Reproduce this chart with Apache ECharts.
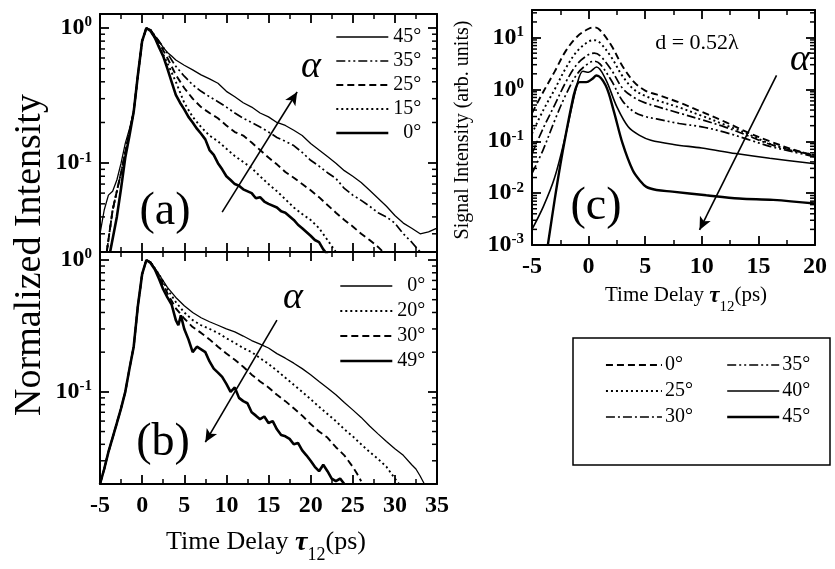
<!DOCTYPE html>
<html>
<head>
<meta charset="utf-8">
<script src="https://cdn.jsdelivr.net/npm/echarts@6/dist/echarts.min.js"></script>
<style>
  html, body { margin: 0; padding: 0; background: #fff; }
  #chart { width: 835px; height: 569px; }
</style>
</head>
<body>
<div id="chart"></div>
<script>
// ---------- Panel (a): normalized decay for alpha = 0..45 deg ----------
const riseA45 = [[-5,0.03],[-4.5,0.045],[-4,0.058],[-3.5,0.062],[-3,0.075],[-2.5,0.1],[-2,0.14],[-1.5,0.18],[-1,0.24],[-0.5,0.45],[0,0.8],[0.5,1.0]];
const riseA = [[-4.2,0.022],[-3.5,0.045],[-3,0.062],[-2.5,0.085],[-2,0.12],[-1.5,0.17],[-1,0.24],[-0.5,0.45],[0,0.8],[0.5,1.0]];
const riseA0 = [[-3.8,0.022],[-3,0.04],[-2.5,0.065],[-2,0.11],[-1.5,0.16],[-1,0.24],[-0.5,0.45],[0,0.8],[0.5,1.0]];
const decayA0 = [[1,0.95],[1.5,0.85],[2,0.72],[2.5,0.62],[3,0.5],[3.5,0.4],[4,0.32],[4.5,0.28],[5,0.25],[5.5,0.22],[6,0.2],[6.5,0.18],[7,0.165],[7.5,0.15],[8,0.125],[8.5,0.115],[9,0.1],[9.5,0.09],[10,0.08],[10.5,0.075],[11,0.07],[11.5,0.068],[12,0.064],[13,0.06],[13.5,0.055],[14,0.056],[14.5,0.052],[15,0.05],[16,0.047],[16.5,0.044],[17,0.043],[18,0.038],[18.5,0.035],[19,0.033],[20,0.029],[20.5,0.027],[21,0.026],[21.5,0.023],[22,0.021]];
const decayA15 = [[1,0.96],[2,0.74],[3,0.55],[4,0.4],[5,0.28],[6,0.22],[7,0.185],[8,0.16],[9,0.145],[10,0.128],[11,0.113],[12,0.102],[13,0.092],[14,0.08],[15,0.07],[16,0.062],[17,0.054],[18,0.047],[19,0.042],[20,0.038],[21,0.033],[22,0.027],[23,0.022]];
const decayA25 = [[1,0.97],[2,0.78],[3,0.6],[4,0.45],[5,0.36],[6,0.3],[7,0.26],[8,0.235],[9,0.215],[10,0.19],[11,0.17],[12,0.16],[13,0.142],[14,0.125],[15,0.11],[16,0.098],[17,0.086],[18,0.078],[19,0.07],[20,0.063],[21,0.056],[22,0.049],[23,0.043],[24,0.038],[25,0.034],[26,0.03],[27,0.027],[28,0.024],[28.6,0.022]];
const decayA35 = [[1,0.97],[2,0.8],[3,0.65],[4,0.52],[5,0.44],[6,0.38],[7,0.34],[8,0.31],[9,0.285],[10,0.26],[11,0.235],[12,0.215],[13,0.2],[14,0.185],[15,0.17],[16,0.155],[17,0.145],[18,0.135],[19,0.12],[20,0.105],[21,0.095],[22,0.085],[23,0.077],[24,0.065],[25,0.058],[26,0.053],[27,0.048],[28,0.043],[29,0.04],[30,0.036],[31,0.03],[32,0.026],[33,0.022]];
const decayA45 = [[1,0.97],[1.5,0.88],[2,0.8],[2.5,0.72],[3,0.66],[3.5,0.62],[4,0.58],[5,0.53],[6,0.49],[7,0.45],[8,0.42],[9,0.39],[10,0.34],[11,0.31],[12,0.28],[13,0.26],[14,0.235],[15,0.22],[16,0.2],[17,0.19],[18,0.175],[19,0.16],[20,0.14],[21,0.125],[22,0.112],[23,0.1],[24,0.088],[25,0.08],[26,0.072],[27,0.063],[28,0.055],[29,0.048],[30,0.041],[31,0.036],[32,0.033],[33,0.03],[34,0.031],[35,0.033]];

// ---------- Panel (b): normalized decay for alpha = 0..49 deg ----------
const riseB = [[-5,0.02],[-4.5,0.026],[-4,0.035],[-3.5,0.045],[-3,0.058],[-2.5,0.075],[-2,0.1],[-1.5,0.15],[-1,0.22],[-0.5,0.45],[0,0.78],[0.5,1.0]];
const decayB0 = [[1,0.97],[2,0.78],[3,0.62],[4,0.52],[5,0.45],[6,0.4],[7,0.365],[8,0.34],[9,0.32],[10,0.3],[11,0.285],[12,0.265],[13,0.245],[14,0.23],[15,0.215],[16,0.195],[17,0.18],[18,0.165],[19,0.15],[20,0.135],[21,0.12],[22,0.107],[23,0.095],[24,0.083],[25,0.073],[26,0.064],[27,0.055],[28,0.048],[29,0.042],[30,0.037],[31,0.033],[32,0.028],[32.5,0.026],[33,0.023],[33.5,0.02]];
const decayB20 = [[1,0.96],[2,0.78],[3,0.6],[4,0.48],[5,0.4],[6,0.35],[7,0.32],[8,0.3],[9,0.28],[10,0.255],[11,0.235],[12,0.215],[13,0.2],[14,0.18],[15,0.163],[16,0.145],[17,0.128],[18,0.113],[19,0.1],[20,0.088],[21,0.077],[22,0.068],[23,0.06],[24,0.052],[25,0.046],[26,0.04],[27,0.035],[28,0.031],[29,0.027],[30,0.022],[30.5,0.02]];
const decayB30 = [[1,0.96],[2,0.76],[3,0.56],[4,0.43],[5,0.36],[6,0.31],[7,0.28],[8,0.25],[9,0.22],[10,0.195],[11,0.175],[12,0.155],[13,0.135],[14,0.12],[15,0.108],[16,0.095],[17,0.085],[18,0.075],[19,0.066],[20,0.057],[21,0.05],[22,0.045],[23,0.038],[24,0.033],[25,0.027],[25.5,0.024],[26,0.021]];
const decayB49 = [[1,0.95],[1.5,0.85],[2,0.72],[2.5,0.6],[3,0.52],[3.5,0.46],[4,0.35],[4.3,0.32],[4.6,0.38],[5,0.3],[5.5,0.25],[6,0.2],[6.5,0.22],[7,0.21],[7.5,0.2],[8,0.17],[8.5,0.15],[9,0.14],[9.5,0.13],[10,0.115],[10.5,0.1],[11,0.108],[11.5,0.09],[12,0.085],[12.5,0.082],[13,0.07],[13.5,0.066],[14,0.062],[14.5,0.065],[15,0.058],[15.5,0.06],[16,0.052],[16.5,0.047],[17,0.046],[17.5,0.044],[18,0.04],[18.5,0.041],[19,0.036],[19.5,0.033],[20,0.03],[20.5,0.027],[21,0.025],[21.5,0.028],[22,0.025],[22.5,0.022],[23,0.021],[23.5,0.022],[24,0.02]];

// ---------- Panel (c): signal intensity, d = 0.52 lambda ----------
const c0  = [[-5,0.35],[-4,0.9],[-3,2.2],[-2,5.6],[-1,10.5],[0,14.8],[0.5,15.8],[1,14],[2,7.1],[3,2.8],[4,1.4],[5,0.95],[6,0.8],[8,0.56],[10,0.37],[12,0.24],[14,0.15],[16,0.1],[18,0.07],[20,0.052]];
const c25 = [[-5,0.14],[-4,0.4],[-3,1.0],[-2,2.6],[-1,5.5],[0,8.4],[0.5,8.9],[1,8.0],[2,4.2],[3,1.8],[4,1.0],[5,0.75],[6,0.62],[8,0.45],[10,0.31],[12,0.21],[14,0.14],[16,0.09],[18,0.068],[20,0.054]];
const c30 = [[-5,0.058],[-4,0.18],[-3,0.5],[-2,1.4],[-1,3.1],[0,4.7],[0.5,5.0],[1,4.5],[2,2.4],[3,1.05],[4,0.7],[5,0.55],[6,0.47],[8,0.35],[10,0.26],[12,0.19],[14,0.13],[16,0.088],[18,0.066],[20,0.054]];
const c35 = [[-5,0.024],[-4,0.07],[-3,0.25],[-2,0.8],[-1,2.0],[0,3.2],[0.5,3.5],[1,3.1],[2,1.5],[3,0.6],[4,0.37],[5,0.3],[6,0.27],[8,0.22],[10,0.19],[12,0.15],[14,0.11],[16,0.08],[18,0.063],[20,0.05]];
const c40 = [[-5,0.002],[-4,0.0055],[-3,0.02],[-2,0.14],[-1,1.29],[-0.5,2.24],[0,2.14],[0.7,2.7],[1.5,1.58],[2.5,0.46],[3.5,0.19],[4.5,0.13],[5.5,0.105],[7.5,0.087],[10,0.074],[13,0.058],[16,0.047],[20,0.037]];
const c45 = [[-3.6,0.001],[-3,0.0074],[-2.5,0.035],[-2,0.14],[-1.5,0.5],[-1.2,0.95],[-0.8,1.38],[-0.2,1.38],[0.3,1.58],[0.7,1.86],[1.5,1.2],[2.2,0.4],[3,0.091],[3.9,0.0275],[4.5,0.0178],[5.1,0.0132],[6,0.0115],[7.4,0.0107],[10.4,0.0091],[13.3,0.0079],[16.3,0.0074],[20,0.0063]];

// Legend labels
const labelsA = { a45: '45°', a35: '35°', a25: '25°', a15: '15°', a0: '0°' };
const labelsB = { b0: '0°', b20: '20°', b30: '30°', b49: '49°' };
const labelsC = { c0: '0°', c25: '25°', c30: '30°', c35: '35°', c40: '40°', c45: '45°' };

// Axis ranges
const xRangeAB = [-5, 35];
const xRangeC = [-5, 20];
const yRangeA = [0.022, 1.27];
const yRangeB = [0.02, 1.15];
const yRangeC = [0.001, 34];

// Minor log ticks (2..9 x 10^k) inside a range
function minorLogTicks(range) {
  const out = [];
  for (let k = -4; k <= 2; k++) {
    for (let m = 2; m <= 9; m++) {
      const v = m * Math.pow(10, k);
      if (v > range[0] && v < range[1]) out.push(v);
    }
  }
  return out;
}

const SERIF = 'Liberation Serif';
const BLACK = '#000';

const styles = {
  thin:    { type: 'solid', width: 1.3 },
  thick:   { type: 'solid', width: 2.6 },
  dashed:  { type: [7, 4], width: 1.9 },
  dotted:  { type: [2, 3], width: 1.9 },
  dashDot: { type: [9, 3, 2, 3], width: 1.7 },
  dashDotDot: { type: [9, 3, 2, 3, 2, 3], width: 1.7 }
};

function lineSeries(name, data, style, xi, yi, smooth) {
  return {
    name, type: 'line', data, xAxisIndex: xi, yAxisIndex: yi,
    symbol: 'none', smooth: smooth || false, silent: true,
    lineStyle: Object.assign({ color: BLACK }, style),
    itemStyle: { color: BLACK },
    clip: true, z: 3
  };
}

function minorTickSeries(xi, yi, xRange, range) {
  return {
    type: 'custom', xAxisIndex: xi, yAxisIndex: yi, silent: true, z: 6, clip: false,
    data: minorLogTicks(range).map(v => [xRange[0], v]),
    encode: { x: 0, y: 1 },
    renderItem(params, api) {
      const v = api.value(1);
      const pL = api.coord([xRange[0], v]);
      const pR = api.coord([xRange[1], v]);
      return {
        type: 'group',
        children: [
          { type: 'line', shape: { x1: pL[0], y1: pL[1], x2: pL[0] + 5, y2: pL[1] }, style: { stroke: BLACK, lineWidth: 1.5 } },
          { type: 'line', shape: { x1: pR[0] - 5, y1: pR[1], x2: pR[0], y2: pR[1] }, style: { stroke: BLACK, lineWidth: 1.5 } }
        ]
      };
    }
  };
}

function arrow(from, to) {
  return {
    silent: true, symbol: ['none', 'arrow'], symbolSize: [9, 13],
    lineStyle: { type: 'solid', color: BLACK, width: 1.6 },
    label: { show: false },
    data: [[{ coord: from }, { coord: to }]]
  };
}

function powLabel(v) {
  const e = Math.log10(v);
  const r = Math.round(e);
  if (Math.abs(e - r) > 1e-6) return '';
  return '{b|10}{s|' + (r < 0 ? '-' + (-r) : r) + '}';
}

const powRich = {
  b: { fontFamily: SERIF, fontWeight: 'bold', fontSize: 24, lineHeight: 26, color: BLACK },
  s: { fontFamily: SERIF, fontWeight: 'bold', fontSize: 15, lineHeight: 15, verticalAlign: 'top', color: BLACK }
};

const tickCommon = { inside: true, length: 9, lineStyle: { color: BLACK, width: 1.8 } };
const axisLineCommon = { show: true, onZero: false, lineStyle: { color: BLACK, width: 2 } };

function xAxisDef(gi, range, pos, showLabels) {
  return {
    type: 'value', gridIndex: gi, position: pos, min: range[0], max: range[1], interval: 5,
    axisLine: axisLineCommon, axisTick: tickCommon,
    minorTick: { show: true, splitNumber: 2, length: 5, lineStyle: { color: BLACK, width: 1.5 } },
    splitLine: { show: false }, minorSplitLine: { show: false },
    axisLabel: {
      show: showLabels, margin: 10, color: BLACK,
      fontFamily: SERIF, fontWeight: 'bold', fontSize: 24
    }
  };
}

function yAxisDef(gi, range, pos, showLabels) {
  return {
    type: 'log', logBase: 10, gridIndex: gi, position: pos, min: range[0], max: range[1],
    axisLine: axisLineCommon, axisTick: tickCommon,
    splitLine: { show: false },
    axisLabel: {
      show: showLabels, margin: 8, formatter: powLabel, rich: powRich,
      showMinLabel: true, showMaxLabel: true
    }
  };
}

// Right-aligned legend labels (panels a, b)
const legendRichRight = {
  r: { fontFamily: SERIF, fontSize: 20, color: BLACK, width: 30, align: 'right' }
};

const legendCommon = {
  orient: 'vertical', itemWidth: 52, itemHeight: 10, itemGap: 4,
  selectedMode: false,
  itemStyle: { opacity: 0, borderWidth: 0 },
  lineStyle: { width: 'inherit' },
  textStyle: { fontFamily: SERIF, fontSize: 20, color: BLACK, padding: [0, 0, 0, -2], rich: legendRichRight }
};

const titleRich = {
  n: { fontFamily: SERIF, fontSize: 26, lineHeight: 32, verticalAlign: 'top', color: BLACK },
  t: { fontFamily: SERIF, fontSize: 28, fontStyle: 'italic', fontWeight: 'bold', lineHeight: 32, verticalAlign: 'top', color: BLACK },
  sub: { fontFamily: SERIF, fontSize: 18, lineHeight: 18, padding: [21, 0, 0, 0], color: BLACK }
};
const titleRichC = {
  n: { fontFamily: SERIF, fontSize: 21, lineHeight: 26, verticalAlign: 'top', color: BLACK },
  t: { fontFamily: SERIF, fontSize: 23, fontStyle: 'italic', fontWeight: 'bold', lineHeight: 26, verticalAlign: 'top', color: BLACK },
  sub: { fontFamily: SERIF, fontSize: 15, lineHeight: 15, padding: [18, 0, 0, 0], color: BLACK }
};

const option = {
  animation: false,
  backgroundColor: '#fff',
  grid: [
    { left: 100, top: 14, width: 337, height: 238, containLabel: false, outerBoundsMode: 'none' },
    { left: 100, top: 252, width: 337, height: 232, containLabel: false, outerBoundsMode: 'none' },
    { left: 532, top: 10, width: 283, height: 235, containLabel: false, outerBoundsMode: 'none' }
  ],
  xAxis: [
    xAxisDef(0, xRangeAB, 'bottom', false),
    xAxisDef(0, xRangeAB, 'top', false),
    xAxisDef(1, xRangeAB, 'bottom', true),
    xAxisDef(1, xRangeAB, 'top', false),
    xAxisDef(2, xRangeC, 'bottom', true),
    xAxisDef(2, xRangeC, 'top', false)
  ],
  yAxis: [
    yAxisDef(0, yRangeA, 'left', true),
    yAxisDef(0, yRangeA, 'right', false),
    yAxisDef(1, yRangeB, 'left', true),
    yAxisDef(1, yRangeB, 'right', false),
    yAxisDef(2, yRangeC, 'left', true),
    yAxisDef(2, yRangeC, 'right', false)
  ],
  legend: [
    Object.assign({}, legendCommon, {
      left: 330, top: 22, data: ['a45', 'a35', 'a25', 'a15', 'a0'],
      formatter: n => '{r|' + labelsA[n] + '}'
    }),
    Object.assign({}, legendCommon, {
      left: 334, top: 271, itemGap: 5, data: ['b0', 'b20', 'b30', 'b49'],
      formatter: n => '{r|' + labelsB[n] + '}'
    }),
    Object.assign({}, legendCommon, {
      left: 600, top: 350, itemGap: 6, itemWidth: 56, data: ['c0', 'c25', 'c30'],
      formatter: n => labelsC[n]
    }),
    Object.assign({}, legendCommon, {
      left: 721, top: 350, itemGap: 6, itemWidth: 52, data: ['c35', 'c40', 'c45'],
      formatter: n => labelsC[n]
    })
  ],
  series: [
    // (a)
    Object.assign(lineSeries('a45', riseA45.concat(decayA45), styles.thin, 0, 0), {
      markLine: arrow([9.5, 0.0434], [18.4, 0.336])
    }),
    lineSeries('a35', riseA.concat(decayA35), styles.dashDotDot, 0, 0),
    lineSeries('a25', riseA.concat(decayA25), styles.dashed, 0, 0),
    lineSeries('a15', riseA.concat(decayA15), styles.dotted, 0, 0),
    lineSeries('a0', riseA0.concat(decayA0), styles.thick, 0, 0),
    minorTickSeries(0, 0, xRangeAB, yRangeA),
    // (b)
    Object.assign(lineSeries('b0', riseB.concat(decayB0), styles.thin, 2, 2), {
      markLine: arrow([16.0, 0.35], [7.5, 0.0415])
    }),
    lineSeries('b20', riseB.concat(decayB20), styles.dotted, 2, 2),
    lineSeries('b30', riseB.concat(decayB30), styles.dashed, 2, 2),
    lineSeries('b49', riseB.concat(decayB49), styles.thick, 2, 2),
    minorTickSeries(2, 2, xRangeAB, yRangeB),
    // (c)
    Object.assign(lineSeries('c0', c0, styles.dashed, 4, 4, 0.35), {
      markLine: arrow([16.6, 1.86], [9.8, 0.00195])
    }),
    lineSeries('c25', c25, styles.dotted, 4, 4, 0.35),
    lineSeries('c30', c30, styles.dashDot, 4, 4, 0.35),
    lineSeries('c35', c35, styles.dashDotDot, 4, 4, 0.35),
    lineSeries('c40', c40, { type: 'solid', width: 1.6 }, 4, 4, 0.35),
    lineSeries('c45', c45, { type: 'solid', width: 2.4 }, 4, 4, 0.35),
    minorTickSeries(4, 4, xRangeC, yRangeC)
  ],
  graphic: [
    { type: 'text', x: 30, y: 255, rotation: Math.PI / 2,
      style: { text: 'Normalized Intensity', fontFamily: SERIF, fontSize: 38, fill: BLACK, align: 'center', verticalAlign: 'middle' } },
    { type: 'text', x: 463, y: 130, rotation: Math.PI / 2,
      style: { text: 'Signal Intensity (arb. units)', fontFamily: SERIF, fontSize: 20, fill: BLACK, align: 'center', verticalAlign: 'middle' } },
    { type: 'text', x: 266, y: 545,
      style: { text: '{n|Time Delay }{t|τ}{sub|12}{n|(ps)}', rich: titleRich, align: 'center', verticalAlign: 'middle' } },
    { type: 'text', x: 686, y: 298,
      style: { text: '{n|Time Delay }{t|τ}{sub|12}{n|(ps)}', rich: titleRichC, align: 'center', verticalAlign: 'middle' } },
    { type: 'text', x: 165, y: 212,
      style: { text: '(a)', fontFamily: SERIF, fontSize: 46, fill: BLACK, align: 'center', verticalAlign: 'middle' } },
    { type: 'text', x: 163, y: 443,
      style: { text: '(b)', fontFamily: SERIF, fontSize: 46, fill: BLACK, align: 'center', verticalAlign: 'middle' } },
    { type: 'text', x: 596, y: 207,
      style: { text: '(c)', fontFamily: SERIF, fontSize: 46, fill: BLACK, align: 'center', verticalAlign: 'middle' } },
    { type: 'text', x: 311, y: 67,
      style: { text: 'α', fontFamily: SERIF, fontStyle: 'italic', fontSize: 38, fill: BLACK, align: 'center', verticalAlign: 'middle' } },
    { type: 'text', x: 293, y: 298,
      style: { text: 'α', fontFamily: SERIF, fontStyle: 'italic', fontSize: 38, fill: BLACK, align: 'center', verticalAlign: 'middle' } },
    { type: 'text', x: 800, y: 60,
      style: { text: 'α', fontFamily: SERIF, fontStyle: 'italic', fontSize: 38, fill: BLACK, align: 'center', verticalAlign: 'middle' } },
    { type: 'text', x: 697, y: 43,
      style: { text: 'd = 0.52λ', fontFamily: SERIF, fontSize: 22, fill: BLACK, align: 'center', verticalAlign: 'middle' } },
    { type: 'rect', shape: { x: 573, y: 338, width: 257, height: 127 },
      style: { fill: 'none', stroke: BLACK, lineWidth: 1.5 } }
  ]
};

const chart = echarts.init(document.getElementById('chart'), null, { renderer: 'canvas' });
chart.setOption(option);
</script>
</body>
</html>
